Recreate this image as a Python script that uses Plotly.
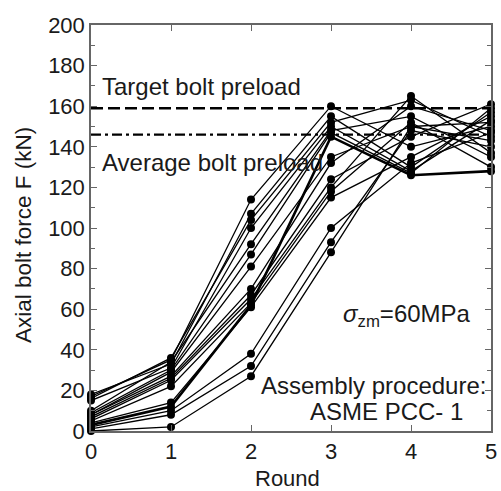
import plotly.graph_objects as go

# Tightening rounds
rounds = [0, 1, 2, 3, 4, 5]

# Axial force of each bolt after every round (kN)
bolt_forces = [
    [17, 35, 114, 160, 140, 150],
    [18, 33, 107, 155, 130, 157],
    [16, 36, 104, 152, 163, 145],
    [15, 31, 100, 150, 128, 153],
    [10, 34, 92, 148, 155, 135],
    [9, 30, 87, 147, 127, 159],
    [8, 29, 81, 135, 150, 143],
    [8, 27, 70, 132, 160, 148],
    [7, 26, 67, 124, 145, 161],
    [6, 25, 65, 120, 165, 137],
    [5, 22, 63, 118, 152, 130],
    [4, 14, 61, 115, 135, 155],
    [3, 12, 62, 145, 126, 128],
    [2, 10, 38, 100, 132, 147],
    [1, 8, 32, 93, 148, 140],
    [0, 2, 27, 88, 150, 152],
]
thick_bolt = 12

target_preload = 159
average_preload = 146

y_ticks = [0, 20, 40, 60, 80, 100, 120, 140, 160, 180, 200]

FONT = "Liberation Sans, Arial, sans-serif"
TEXT = "#1a1a1a"

fig = go.Figure()

for i, f in enumerate(bolt_forces):
    fig.add_trace(go.Scatter(
        x=rounds, y=f, mode="lines+markers",
        line=dict(color="black", width=2.6 if i == thick_bolt else 1.3),
        marker=dict(color="black", size=8),
        showlegend=False, cliponaxis=False,
    ))

fig.add_trace(go.Scatter(
    x=[0, 5], y=[target_preload, target_preload], mode="lines",
    line=dict(color="black", width=2.4, dash="12px,5px"), showlegend=False,
))
fig.add_trace(go.Scatter(
    x=[0, 5], y=[average_preload, average_preload], mode="lines",
    line=dict(color="black", width=2.4, dash="10px,4px,3px,4px"), showlegend=False,
))

ann_font = dict(family=FONT, size=24, color=TEXT)
fig.add_annotation(x=0.11, y=169.5, text="Target bolt preload", showarrow=False,
                   xanchor="left", yanchor="middle", font=ann_font)
fig.add_annotation(x=0.11, y=132.5, text="Average bolt preload", showarrow=False,
                   xanchor="left", yanchor="middle", font=ann_font)
fig.add_annotation(x=4.77, y=57, text="<i>σ</i><sub>zm</sub>=60MPa", showarrow=False,
                   xanchor="right", yanchor="middle", font=ann_font)
fig.add_annotation(x=4.96, y=22.5, text="Assembly procedure:", showarrow=False,
                   xanchor="right", yanchor="middle", font=ann_font)
fig.add_annotation(x=4.68, y=9.8, text="ASME PCC- 1", showarrow=False,
                   xanchor="right", yanchor="middle", font=ann_font)

# Axis titles placed on the paper
fig.add_annotation(xref="paper", yref="paper", x=-0.167, y=0.483,
                   text="Axial bolt force F (kN)", textangle=-90, showarrow=False,
                   xanchor="center", yanchor="middle",
                   font=dict(family=FONT, size=22.5, color=TEXT))
fig.add_annotation(xref="paper", yref="paper", x=0.49, y=-0.118,
                   text="Round", showarrow=False,
                   xanchor="center", yanchor="middle",
                   font=dict(family=FONT, size=22, color=TEXT))

axis_common = dict(
    showgrid=False, zeroline=False, showline=True, linecolor="#666", linewidth=1.5,
    mirror="ticks", ticks="inside", ticklen=6, tickcolor="#666", tickwidth=1.2,
    tickfont=dict(family=FONT, size=22, color=TEXT), ticklabeloverflow="allow",
)

fig.update_xaxes(
    range=[0, 5], tickvals=rounds, ticktext=[str(r) for r in rounds],
    **axis_common,
)
fig.update_yaxes(
    range=[0, 200], tickvals=y_ticks, ticktext=[str(t) for t in y_ticks],
    minor=dict(dtick=10, ticks="inside", ticklen=4, tickcolor="#666", tickwidth=1.2),
    **axis_common,
)

fig.update_layout(
    width=501, height=491,
    margin=dict(l=91, r=4, t=25, b=60),
    paper_bgcolor="white", plot_bgcolor="white",
)

fig.write_html("out.html")
